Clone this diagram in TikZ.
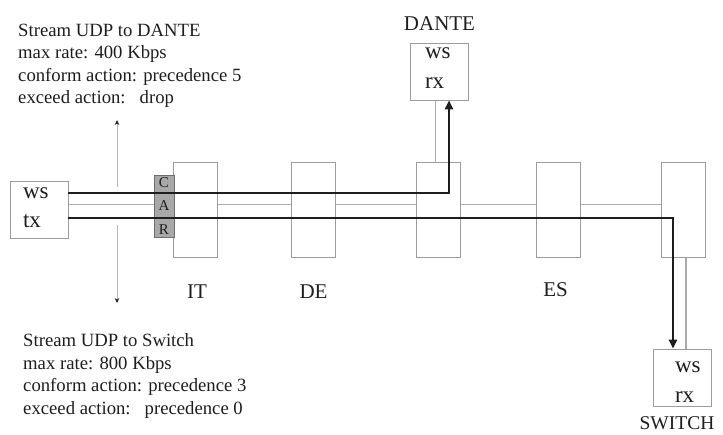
\documentclass[tikz,border=0pt]{standalone}
\usepackage{fontspec}
\setmainfont{Liberation Serif}
\usepackage{tikz}
\usetikzlibrary{arrows.meta, positioning, backgrounds}
\definecolor{boxGray}{HTML}{9C9C9C}
\definecolor{linkGray}{HTML}{ABABAB}
\definecolor{carFill}{HTML}{A8A8A8}
\definecolor{carEdge}{HTML}{6E6E6E}
\definecolor{inkDark}{HTML}{1E1E1E}
\definecolor{meterGray}{HTML}{B8B8B8}
\tikzset{
  stream/.style={-{Triangle[length=9pt, width=8pt]}, color=inkDark, line width=2.4pt},
  link/.style={draw=linkGray, line width=1.2pt},
  linkPair/.style={draw=linkGray, line width=1.2pt, double=white, double distance=12.6pt},
  meter/.style={-{Stealth[length=5pt, width=4.5pt, color=inkDark]}, draw=meterGray, line width=0.9pt},
  router/.style={rectangle, draw=boxGray, fill=white, line width=0.9pt,
                 minimum width=44pt, minimum height=95pt, inner sep=0pt},
  host/.style={rectangle, draw=boxGray, fill=white, line width=0.9pt,
               minimum width=58pt, minimum height=57pt, inner sep=0pt},
  hostTxt/.style={align=left, inner sep=0pt, text=inkDark,
                  font=\fontsize{23}{29.5}\selectfont},
  carBox/.style={rectangle, draw=carEdge, fill=carFill, line width=0.8pt,
                 minimum width=20pt, minimum height=62pt, inner sep=0pt, align=center,
                 text=inkDark, font=\fontsize{15}{23.5}\selectfont},
  tag/.style={inner sep=0pt, text=inkDark, font=\fontsize{21}{25}\selectfont},
  note/.style={align=left, inner sep=0pt, text=inkDark, anchor=north west,
               font=\fontsize{18.7}{22.5}\selectfont},
}

\begin{document}
\begin{tikzpicture}[x=1pt, y=-1pt]
    \useasboundingbox (0,0) rectangle (723,434);
    % routers along the path
    \node[router] (rIT) at (195,209.5) {};
    \node[router] (rDE) at (313.5,209.5) {};
    \node[router] (rDA) at (438,209.5) {};
    \node[router] (rES) at (558.5,209.5) {};
    \node[router] (rSW) at (683.5,209.5) {};
    \node[tag, below=27pt of rIT, xshift=2pt] (tIT) {IT};
    \node[tag, below=27pt of rDE] (tDE) {DE};
    \node[tag, below=25pt of rES, xshift=-3pt] (tES) {ES};
    % end hosts
    \node[host] (src) at (39,209.5) {};
    \node[hostTxt] (srcTxt) at (35.8,207.7) {ws\\tx};
    \node[host] (dante) at (439.5,71.5) {};
    \node[hostTxt] (danteTxt) at (437.8,68.1) {ws\\rx};
    \node[tag, above=12pt of dante] (tDante) {DANTE};
    \node[host] (switch) at (682,377.5) {};
    \node[hostTxt] (switchTxt) at (687.8,382.2) {ws\\rx};
    \node[tag, font=\fontsize{19.5}{23}\selectfont, below=10pt of switch, xshift=-5pt] (tSwitch) {SWITCH};
    % CAR on the ingress
    \node[carBox] (car) at (164,206) {C\\A\\R};
    % links behind the boxes
    \begin{scope}[on background layer]
      \draw[linkPair] ([yshift=-1.5pt]src.east) -- ([yshift=-1.5pt]rSW.west);
      \draw[link] ([xshift=-4pt]dante.south) -- ([xshift=-4pt]dante.south |- rDA.north);
      \draw[link] ([xshift=2.5pt]rSW.south) -- ([xshift=2.5pt]rSW.south |- switch.north);
    \end{scope}
    % the two UDP streams
    \draw[stream] ([yshift=16.5pt]src.east) -| ([xshift=9.5pt]dante.south);
    \draw[stream] ([yshift=-8.5pt]src.east) -| ([xshift=-9pt]switch.north);
    % policing point
    \coordinate (upA) at (117,187);
    \coordinate (upB) at (117,120);
    \coordinate (dnA) at (117,225);
    \coordinate (dnB) at (117,303);
    \draw[meter] (upA) -- (upB);
    \draw[meter] (dnA) -- (dnB);
    \node[note] (noteDante) at (18,20.3)
      {\strut Stream UDP to DANTE\\max rate: 400 Kbps\\conform action: precedence 5\\exceed action:\ \ \ drop};
    \node[note] (noteSwitch) at (23,330.8)
      {\strut Stream UDP to Switch\\max rate: 800 Kbps\\conform action: precedence 3\\exceed action:\ \ \ precedence 0};
\end{tikzpicture}
\end{document}
